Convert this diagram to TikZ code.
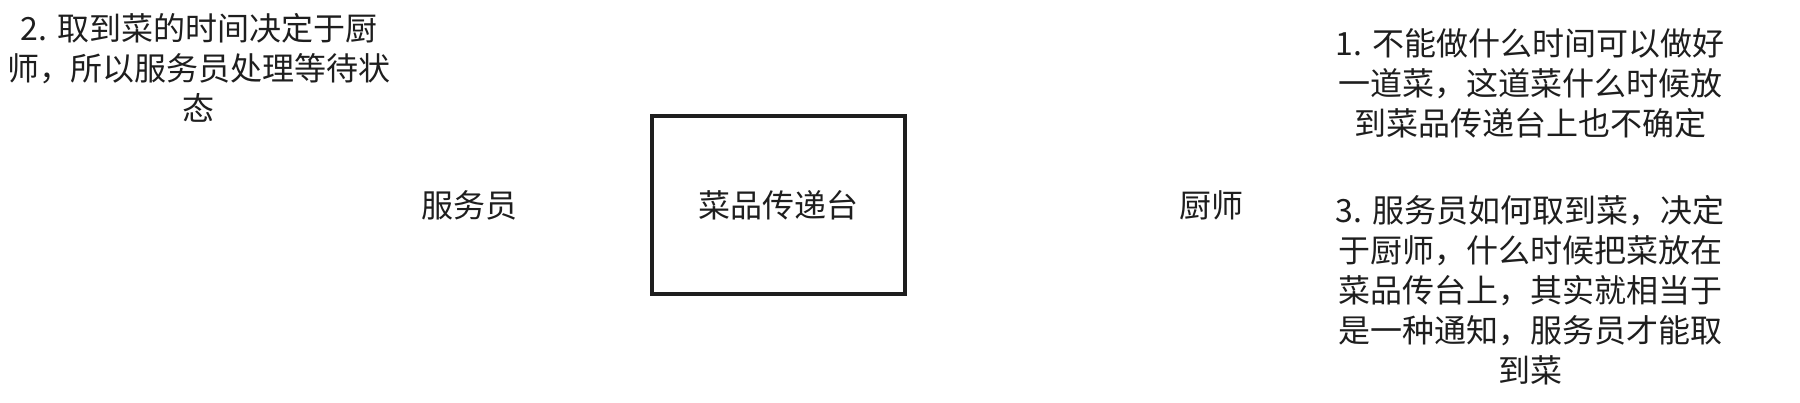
\documentclass[tikz,border=0pt]{standalone}
\usepackage{fontspec}
\setmainfont{Noto Sans CJK SC}
\usepackage{tikz}
\usetikzlibrary{positioning}
\definecolor{inkgray}{RGB}{30,30,30}

\begin{document}
\begin{tikzpicture}[
  x=0.5pt, y=-0.5pt,
  font=\fontsize{16}{20}\selectfont,
  every node/.style={text=inkgray},
  tablebox/.style={rectangle, draw=inkgray, line width=2pt,
    minimum width=126.5pt, minimum height=89pt, inner sep=0pt},
  role/.style={inner sep=0pt},
  note/.style={align=center, inner sep=0pt}
]
\useasboundingbox (0,0) rectangle (1800,402);
% the counter and the two people around it
\node[tablebox] (table) at (778.5,205) {菜品传递台};
\node[role, left=66pt of table] (waiter) {服务员};
\node[role, right=136pt of table] (cook) {厨师};
% remarks
\node[note] (waitnote) at (199,68) {2. 取到菜的时间决定于厨\\师，所以服务员处理等待状\\态};
\node[note] (cooknote) at (1530,83) {1. 不能做什么时间可以做好\\一道菜，这道菜什么时候放\\到菜品传递台上也不确定};
\node[note] (signalnote) at (1530,290) {3. 服务员如何取到菜，决定\\于厨师，什么时候把菜放在\\菜品传台上，其实就相当于\\是一种通知，服务员才能取\\到菜};
\end{tikzpicture}
\end{document}
